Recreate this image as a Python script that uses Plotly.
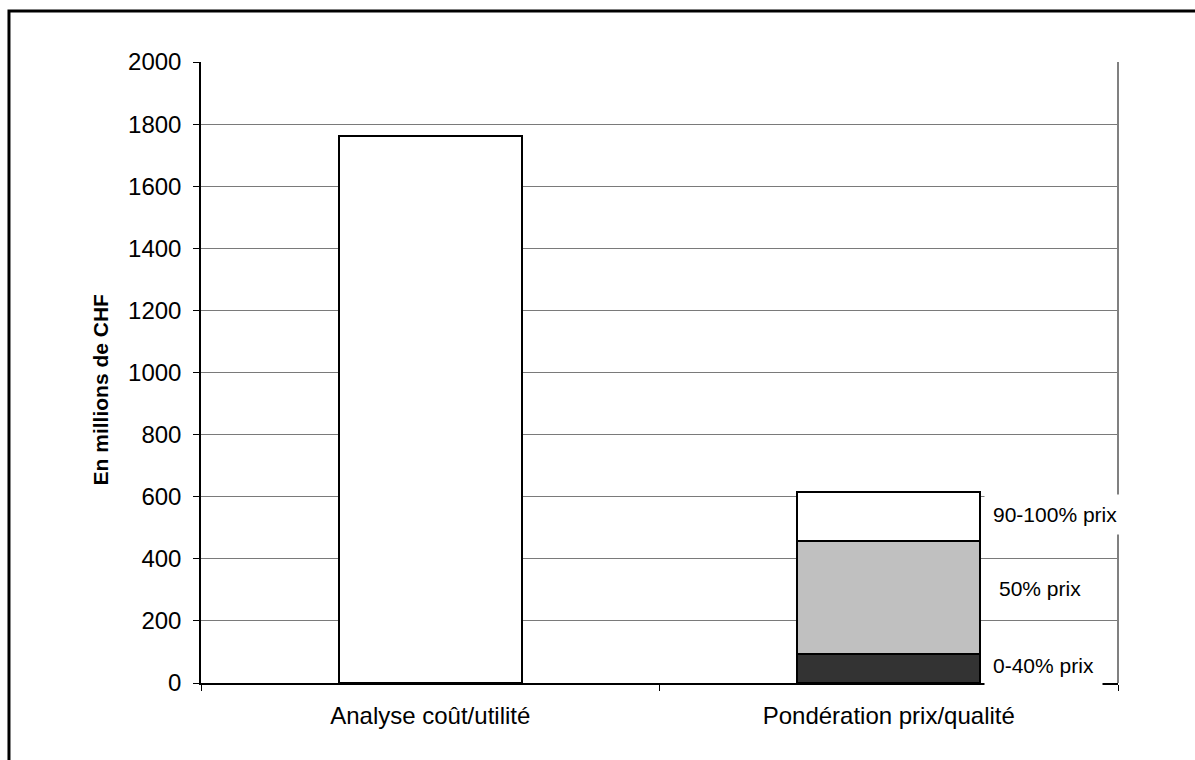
import plotly.graph_objects as go

# Chart data (millions of CHF)
categories = ["Analyse coût/utilité", "Pondération prix/qualité"]
cout_utilite_total = [1762]
segment_labels = ["0-40% prix", "50% prix", "90-100% prix"]
segment_values = [92, 366, 158]
y_tick_values = list(range(0, 2001, 200))

segment_colors = ["#333333", "#c0c0c0", "#ffffff"]
FONT = "Liberation Sans, Arial, sans-serif"

fig = go.Figure()

bar_line = dict(color="black", width=2)

fig.add_trace(go.Bar(
    x=[categories[0]], y=cout_utilite_total,
    marker=dict(color="white", line=bar_line),
    showlegend=False, hoverinfo="y",
))

for label, value, color in zip(segment_labels, segment_values, segment_colors):
    fig.add_trace(go.Bar(
        x=[categories[1]], y=[value], name=label,
        marker=dict(color=color, line=bar_line),
        showlegend=False, hoverinfo="name+y",
    ))

# Segment labels to the right of the stacked bar
label_style = [
    dict(bg="white", yshift=3, x=0.854),
    dict(bg="rgba(0,0,0,0)", yshift=9, x=0.860),
    dict(bg="white", yshift=2, x=0.854),
]
annotations = []
base = 0
for label, value, style in zip(segment_labels, segment_values, label_style):
    mid = base + value / 2
    base += value
    annotations.append(dict(
        x=style["x"], xref="paper", xanchor="left",
        y=mid, yref="y", yanchor="middle", yshift=style["yshift"],
        text=label, showarrow=False,
        font=dict(family=FONT, size=21, color="black"),
        bgcolor=style["bg"], borderpad=8,
        align="left",
    ))

# Vertical axis title
annotations.append(dict(
    x=-0.110, xref="paper", xanchor="center",
    y=0.473, yref="paper", yanchor="middle",
    text="<b>En millions de CHF</b>", textangle=-90, showarrow=False,
    font=dict(family=FONT, size=21, color="black"),
))
fig.update_layout(annotations=annotations)

fig.update_layout(
    width=1195, height=760,
    margin=dict(l=201, r=77, t=62, b=77),
    paper_bgcolor="white", plot_bgcolor="white",
    barmode="stack", bargap=0.6,
    font=dict(family=FONT, size=24, color="black"),
    xaxis=dict(
        type="category", categoryorder="array", categoryarray=categories,
        showline=True, linecolor="black", linewidth=1.5,
        ticks="outside", tickson="boundaries", ticklen=6, tickcolor="black",
        showgrid=False, zeroline=False, ticklabelstandoff=10,
        tickfont=dict(family=FONT, size=24, color="black"),
    ),
    yaxis=dict(
        range=[0, 2000], tickvals=y_tick_values,
        showline=True, linecolor="black", linewidth=1.5,
        ticks="outside", ticklen=6, tickcolor="black",
        showgrid=True, gridcolor="#7a7a7a", gridwidth=1,
        zeroline=False, ticklabelstandoff=7,
        tickfont=dict(family=FONT, size=24, color="black"),
    ),
    shapes=[
        # right edge of the plotting area
        dict(type="line", xref="paper", yref="paper", x0=1, x1=1, y0=0, y1=1,
             line=dict(color="#808080", width=2), layer="above"),
        # outer frame
        dict(type="rect", xref="paper", yref="paper",
             x0=-0.2094, x1=1.3, y0=-0.3, y1=1.0821,
             line=dict(color="black", width=3), layer="above"),
    ],
)

fig.write_html("out.html")
